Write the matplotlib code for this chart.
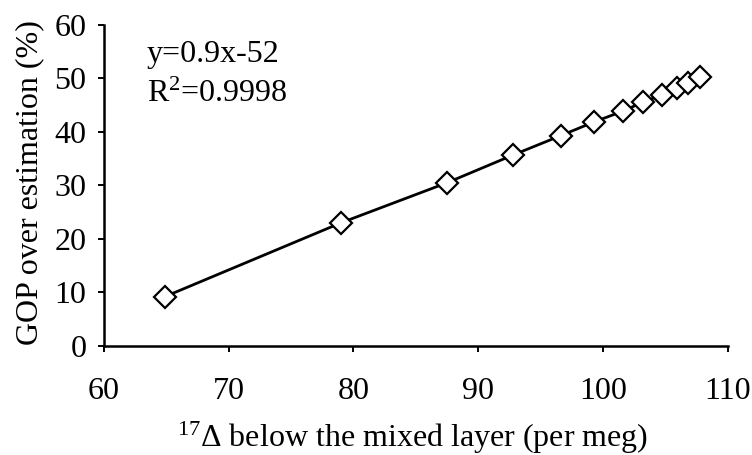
import numpy as np
import matplotlib.pyplot as plt
from matplotlib import font_manager

# values
delta17 = [64.9, 79.0, 87.5, 92.8, 96.6, 99.3, 101.6, 103.2, 104.7, 105.9, 106.8, 107.8]
gop_over = [9.2, 23.0, 30.5, 35.7, 39.3, 41.9, 43.9, 45.6, 46.9, 48.2, 49.2, 50.3]
xticks = [60, 70, 80, 90, 100, 110]
yticks = [0, 10, 20, 30, 40, 50, 60]
fit_text = 'y=0.9x-52'
r2_text = 'R$\\mathrm{^2}$=0.9998'

# pick a Times-like font if one is installed
names = sorted(set(f.name for f in font_manager.fontManager.ttflist))
serif = 'DejaVu Serif'
for cand in ['Liberation Serif', 'Times New Roman', 'Nimbus Roman', 'Tinos',
             'FreeSerif', 'TeX Gyre Termes', 'Noto Serif']:
    if cand in names:
        serif = cand
        break

plt.rcParams['font.family'] = [serif, 'DejaVu Serif']
plt.rcParams['mathtext.fontset'] = 'custom'
plt.rcParams['mathtext.rm'] = serif
plt.rcParams['mathtext.it'] = serif + ':italic'
plt.rcParams['mathtext.bf'] = serif + ':bold'

fs = 23

fig = plt.figure(figsize=(7.52, 4.55), dpi=100)
ax = fig.add_axes([0.138, 0.24, 0.830, 0.705])

ax.plot(delta17, gop_over, color='black', lw=2.0, marker='D', markersize=11.5,
        markerfacecolor='white', markeredgecolor='black', markeredgewidth=1.6, zorder=3)

ax.set_xlim(60, 110)
ax.set_ylim(0, 60)
ax.set_xticks(xticks)
ax.set_yticks(yticks)
ax.spines['top'].set_visible(False)
ax.spines['right'].set_visible(False)
for s in ['left', 'bottom']:
    ax.spines[s].set_linewidth(1.8)
ax.tick_params(direction='out', length=4.5, width=1.4, labelsize=fs)
ax.tick_params(axis='y', pad=8)
ax.tick_params(axis='x', pad=18)

ax.set_xlabel(r'$\mathrm{^{17}}$Δ below the mixed layer (per meg)', fontsize=fs, va='baseline')
ax.xaxis.set_label_coords(0.494, -0.315)
ax.set_ylabel('GOP over estimation (%)', fontsize=fs, va='baseline')
ax.yaxis.set_label_coords(-0.107, 0.509)

ax.text(0.069, 0.885, fit_text, transform=ax.transAxes, fontsize=fs, va='baseline', ha='left')
ax.text(0.069, 0.760, r2_text, transform=ax.transAxes, fontsize=fs, va='baseline', ha='left')

fig.savefig('out.png', dpi=100)
